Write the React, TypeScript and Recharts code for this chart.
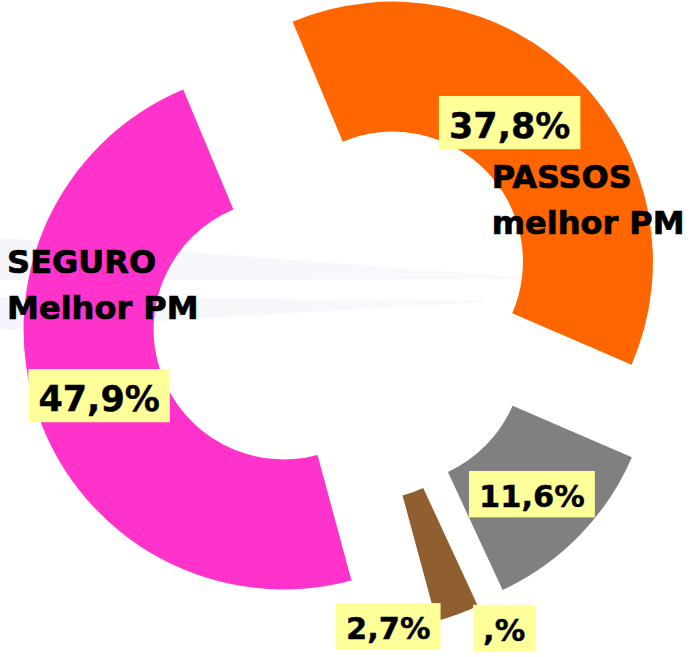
import React from 'react';
import { PieChart, Pie, Cell, Sector } from 'recharts';

// ---- data ----
const categories = ['PASSOS melhor PM', 'Outros', 'Brancos', 'Nulos', 'SEGURO Melhor PM'];
const values = [37.8, 11.6, 2.7, 0, 47.9];
const nameLines: string[][] = [['PASSOS', 'melhor PM'], [], [], [], ['SEGURO', 'Melhor PM']];

// ---- styles ----
const COLORS = ['#FF6600', '#808080', '#905F30', '#C0C0C0', '#FF33CC'];
const CX = 346;
const CY = 308;
const INNER = 130;
const OUTER = 260;
const EXPLODE = 66;
const START = 112.7;
const RADIAN = Math.PI / 180;
const FONT = '"DejaVu Sans", Verdana, sans-serif';

// label nudges (box centre offset, font size, name text offset)
const LABEL_LAYOUT = [
  { dx: -22, dy: -2, fs: 35, nx: -18, ny: 65 },
  { dx: -1, dy: 4, fs: 30.5, nx: 0, ny: 0 },
  { dx: -47, dy: 73, fs: 30.5, nx: 0, ny: 0 },
  { dx: 90, dy: 68, fs: 30.5, nx: 0, ny: 0 },
  { dx: 0, dy: 3, fs: 35, nx: -92, ny: -123 },
];

const data = categories.map((name, i) => ({ name, value: values[i] }));

const CHAR_W: Record<string, number> = { ',': 0.38, '%': 1.002 };
const textWidth = (s: string, fs: number) =>
  s.split('').reduce((acc, c) => acc + (CHAR_W[c] ?? 0.696), 0) * fs;

const formatPct = (v: number) => {
  const i = Math.floor(v + 1e-9);
  const d = Math.round((v - i) * 10);
  return `${i || ''},${d || ''}%`;
};

const renderSector = (props: any) => {
  const { cx, cy, midAngle, innerRadius, outerRadius, startAngle, endAngle, fill } = props;
  const rad = -midAngle * RADIAN;
  return (
    <Sector
      cx={cx + EXPLODE * Math.cos(rad)}
      cy={cy + EXPLODE * Math.sin(rad)}
      innerRadius={innerRadius}
      outerRadius={outerRadius}
      startAngle={startAngle}
      endAngle={endAngle}
      fill={fill}
      stroke="none"
    />
  );
};

const renderLabel = (props: any) => {
  const { cx, cy, midAngle, innerRadius, outerRadius, index } = props;
  const lay = LABEL_LAYOUT[index];
  const rad = -midAngle * RADIAN;
  const r = EXPLODE + (innerRadius + outerRadius) / 2;
  const bx = cx + r * Math.cos(rad) + lay.dx;
  const by = cy + r * Math.sin(rad) + lay.dy;
  const text = formatPct(values[index]);
  const w = textWidth(text, lay.fs) + 20;
  const h = lay.fs * 1.52;
  const lines = nameLines[index];
  return (
    <g key={`lbl-${index}`}>
      <rect x={bx - w / 2} y={by - h / 2} width={w} height={h} fill="#FFFF99" />
      <text
        x={bx}
        y={by + 0.43 * lay.fs}
        textAnchor="middle"
        fontFamily={FONT}
        fontWeight="bold"
        fontSize={lay.fs}
        fill="#000"
        stroke="#000"
        strokeWidth={0.4}
      >
        {text}
      </text>
      {lines.length > 0 && (
        <text
          x={bx + lay.nx}
          y={by + lay.ny}
          fontFamily={FONT}
          fontWeight="bold"
          fontSize={32}
          fill="#000"
          stroke="#000"
          strokeWidth={0.7}
        >
          {lines.map((l, i) => (
            <tspan key={i} x={bx + lay.nx} dy={i === 0 ? 0 : 46}>
              {l}
            </tspan>
          ))}
        </text>
      )}
    </g>
  );
};

export default function App() {
  return (
    <div style={{ position: 'absolute', left: 0, top: 0, width: 691, height: 657, background: '#fff', overflow: 'hidden' }}>
      <svg width={691} height={657} style={{ position: 'absolute', left: 0, top: 0 }}>
        <defs>
          <linearGradient id="beam" x1="0" y1="0" x2="1" y2="0">
            <stop offset="0" stopColor="#F3F5FA" />
            <stop offset="1" stopColor="#F9FAFC" />
          </linearGradient>
        </defs>
        <polygon points="0,238 520,277 520,279 0,280" fill="url(#beam)" />
        <polygon points="0,297 485,300 485,302 0,330" fill="url(#beam)" />
      </svg>
      <div style={{ position: 'absolute', left: 0, top: 0 }}>
        <PieChart width={691} height={657} margin={{ top: 0, right: 0, bottom: 0, left: 0 }}>
          <Pie
            data={data}
            dataKey="value"
            nameKey="name"
            cx={CX}
            cy={CY}
            innerRadius={INNER}
            outerRadius={OUTER}
            startAngle={START}
            endAngle={START - 360}
            stroke="none"
            isAnimationActive={false}
            labelLine={false}
            label={renderLabel}
            shape={renderSector}
            activeShape={renderSector}
            inactiveShape={renderSector}
          >
            {data.map((d, i) => (
              <Cell key={d.name} fill={COLORS[i]} />
            ))}
          </Pie>
        </PieChart>
      </div>
    </div>
  );
}
